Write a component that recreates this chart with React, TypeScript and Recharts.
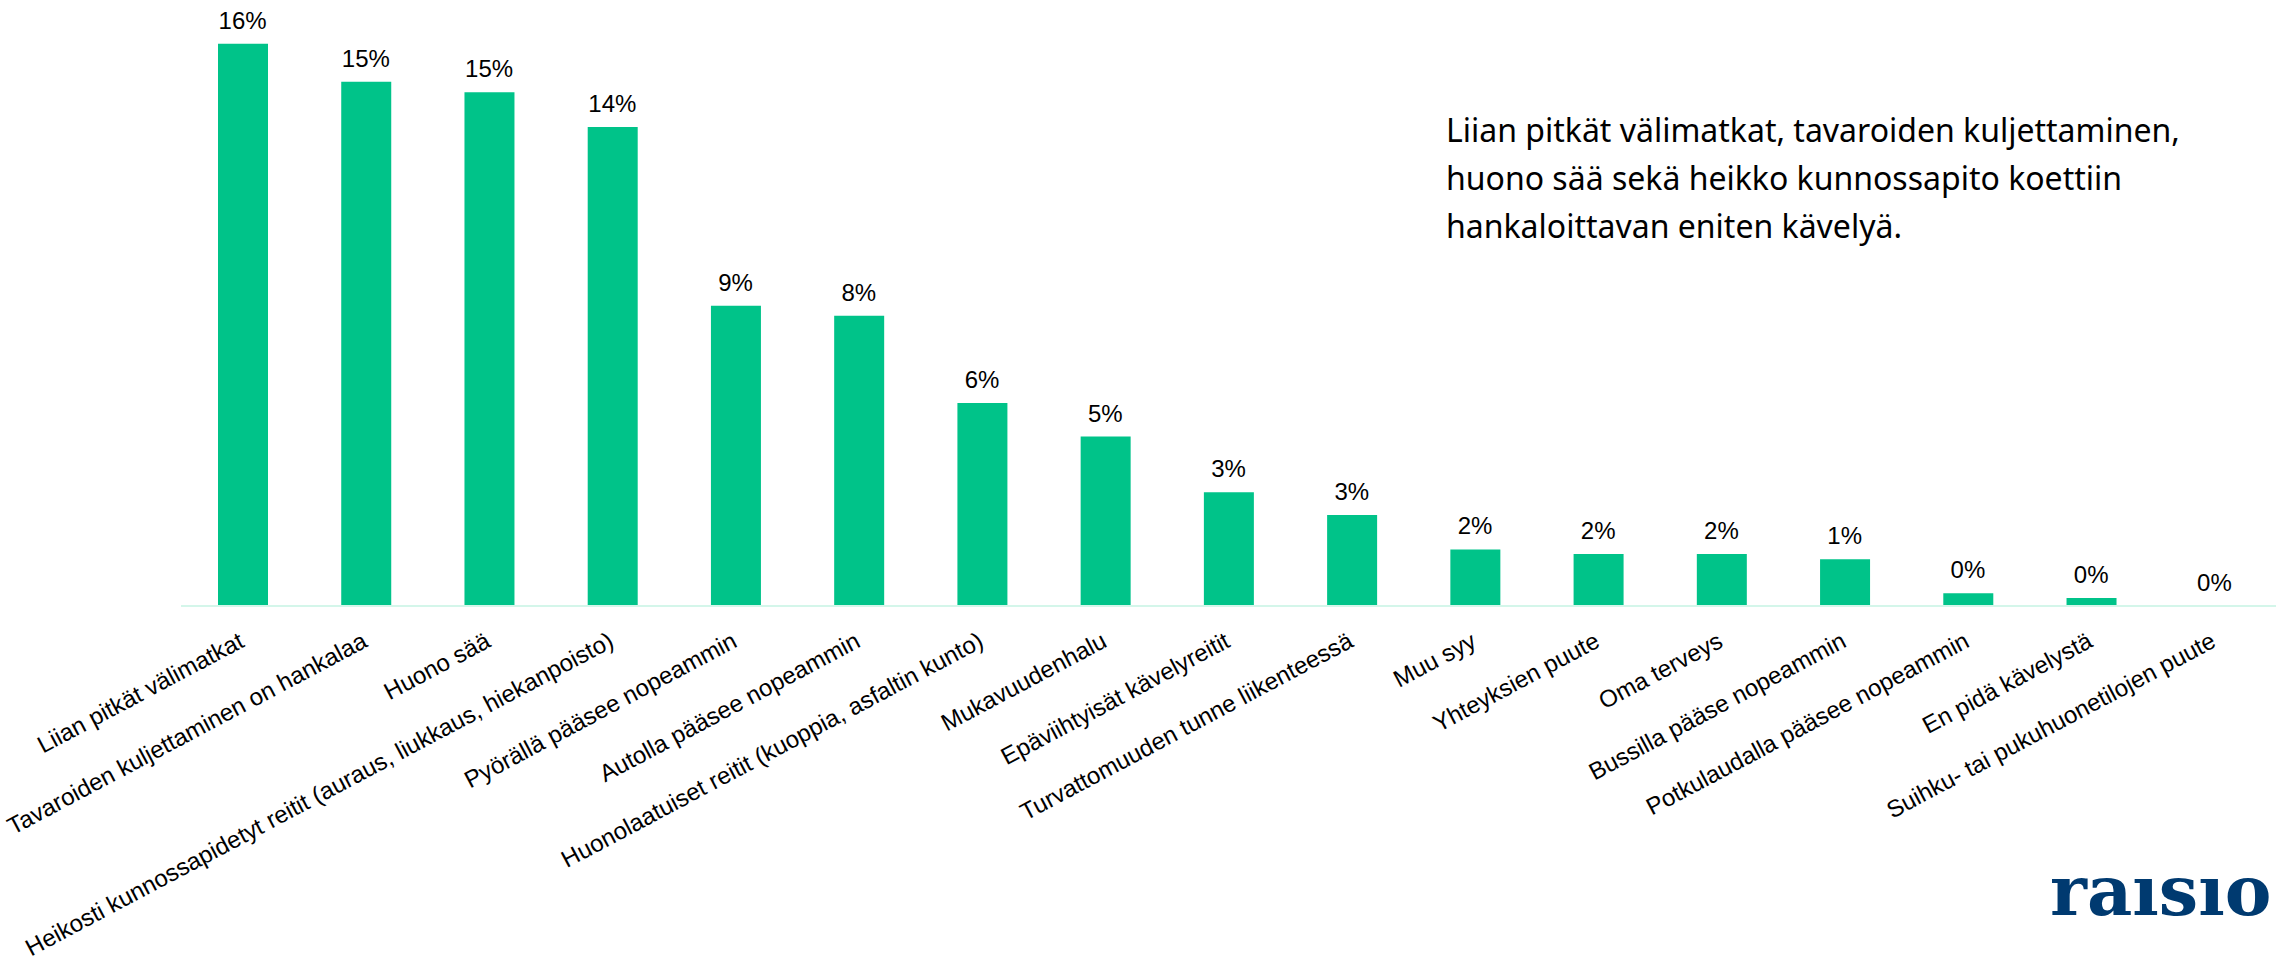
import { ComposedChart, Bar, Line, XAxis, YAxis, LabelList } from 'recharts'

const categories = [
  'Liian pitkät välimatkat',
  'Tavaroiden kuljettaminen on hankalaa',
  'Huono sää',
  'Heikosti kunnossapidetyt reitit (auraus, liukkaus, hiekanpoisto)',
  'Pyörällä pääsee nopeammin',
  'Autolla pääsee nopeammin',
  'Huonolaatuiset reitit (kuoppia, asfaltin kunto)',
  'Mukavuudenhalu',
  'Epäviihtyisät kävelyreitit',
  'Turvattomuuden tunne liikenteessä',
  'Muu syy',
  'Yhteyksien puute',
  'Oma terveys',
  'Bussilla pääse nopeammin',
  'Potkulaudalla pääsee nopeammin',
  'En pidä kävelystä',
  'Suihku- tai pukuhuonetilojen puute',
]

// share of respondents, %
const shares = [16.2, 15.1, 14.8, 13.8, 8.65, 8.36, 5.85, 4.88, 3.28, 2.62, 1.63, 1.5, 1.5, 1.35, 0.37, 0.23, 0]

const noteLines = [
  'Liian pitkät välimatkat, tavaroiden kuljettaminen,',
  'huono sää sekä heikko kunnossapito koettiin',
  'hankaloittavan eniten kävelyä.',
]

const data = categories.map((name, i) => ({ name, share: shares[i] }))

const W = 2282
const H = 963
const GREEN = '#00c389'
const AXIS_FONT = '"Liberation Sans", Arial, sans-serif'

function CategoryTick(props: any) {
  const { x, y, payload } = props
  const ax = x + 3
  const ay = y + 40
  return (
    <text
      x={ax}
      y={ay}
      transform={`rotate(-28, ${ax}, ${ay})`}
      textAnchor="end"
      fontFamily={AXIS_FONT}
      fontSize={24}
      fill="#000"
    >
      {payload.value}
    </text>
  )
}

// labels hang off the (invisible) line points so zero values get one too
function ValueLabel(props: any) {
  const { x, y, value } = props
  return (
    <text x={x} y={y - 15} textAnchor="middle" fontFamily={AXIS_FONT} fontSize={24} fill="#000">
      {`${Math.round(Number(value))}%`}
    </text>
  )
}

export default function App() {
  return (
    <div style={{ position: 'fixed', left: 0, top: 0, width: W, height: H, background: '#fff', overflow: 'hidden' }}>
      <ComposedChart width={W} height={H} data={data} margin={{ top: 2, right: 6, left: 181, bottom: 0 }}>
        <XAxis
          dataKey="name"
          height={357}
          interval={0}
          tickLine={false}
          tickSize={0}
          tickMargin={0}
          axisLine={{ stroke: '#d4f6ea', strokeWidth: 2 }}
          tick={<CategoryTick />}
        />
        <YAxis hide domain={[0, 17.4]} />
        <Bar dataKey="share" fill={GREEN} barSize={50} isAnimationActive={false} />
        <Line
          dataKey="share"
          stroke="none"
          dot={false}
          activeDot={false}
          legendType="none"
          isAnimationActive={false}
        >
          <LabelList dataKey="share" content={<ValueLabel />} />
        </Line>
      </ComposedChart>
      <svg width={W} height={H} style={{ position: 'absolute', left: 0, top: 0, pointerEvents: 'none' }}>
        {noteLines.map((line, i) => (
          <text
            key={line}
            x={1446}
            y={142 + i * 48}
            fontFamily="'Noto Sans', 'Open Sans', sans-serif"
            fontSize={32}
            fill="#000"
          >
            {line}
          </text>
        ))}
        <text
          x={2050}
          y={915}
          fontFamily="'DejaVu Serif', serif"
          fontWeight="bold"
          fontSize={70}
          fill="#003a70"
        >
          raısıo
        </text>
      </svg>
    </div>
  )
}
